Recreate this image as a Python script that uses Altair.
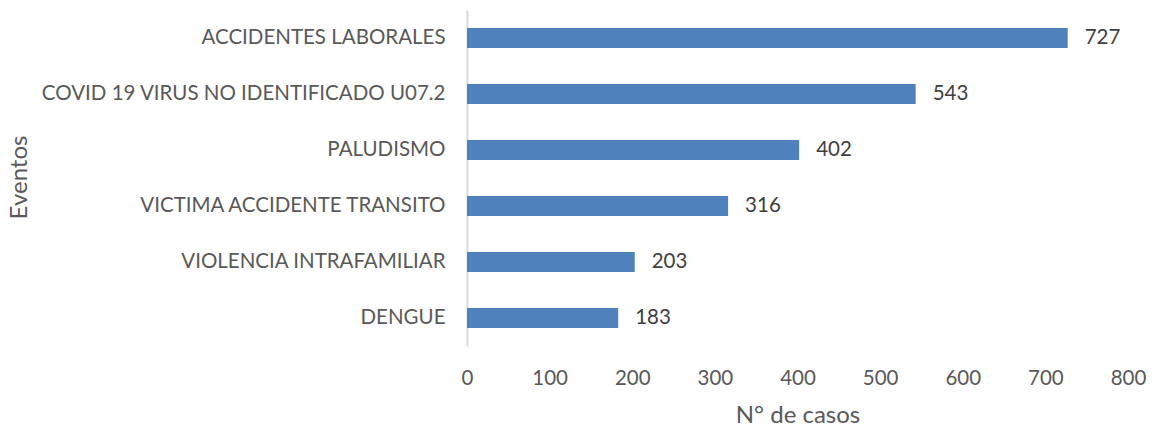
import altair as alt
import pandas as pd

categories = ["ACCIDENTES LABORALES", "COVID 19 VIRUS NO IDENTIFICADO U07.2", "PALUDISMO",
              "VICTIMA ACCIDENTE TRANSITO", "VIOLENCIA INTRAFAMILIAR", "DENGUE"]
values = [727, 543, 402, 316, 203, 183]
x_ticks = [0, 100, 200, 300, 400, 500, 600, 700, 800]

df = pd.DataFrame({"evento": categories, "casos": values})

FONT = "Lato"
FS = 20.5
TFS = 24
GREY = "#595959"

y_enc = alt.Y("evento:N", sort=categories,
              scale=alt.Scale(paddingInner=0.643, paddingOuter=0.3215),
              axis=alt.Axis(title="Eventos", ticks=False, domain=True, domainColor="#d9d9d9",
                            domainWidth=2, labelFont=FONT, labelFontSize=FS, labelColor=GREY,
                            labelPadding=22, labelLimit=500,
                            titleFont=FONT, titleFontSize=TFS, titleColor=GREY, titleFontWeight="normal",
                            titleX=-448, titleY=167, titleAngle=-90, titleBaseline="middle"))
x_enc = alt.X("casos:Q", scale=alt.Scale(domain=[0, 800], nice=False),
              axis=alt.Axis(title="N° de casos", values=x_ticks, grid=False, domain=False, ticks=False,
                            labelFont=FONT, labelFontSize=FS, labelColor=GREY, labelPadding=22,
                            labelFlush=False,
                            titleFont=FONT, titleFontSize=TFS, titleColor=GREY, titleFontWeight="normal",
                            titleY=76, titleBaseline="alphabetic"))

bars = alt.Chart(df).mark_bar(color="#4F81BD").encode(x=x_enc, y=y_enc)
labels = alt.Chart(df).mark_text(align="left", baseline="middle", dx=17, font=FONT, fontSize=FS,
                                 color="#404040").encode(
    x=alt.X("casos:Q"), y=alt.Y("evento:N", sort=categories), text="casos:Q")

chart = (bars + labels).properties(
    width=661, height=336,
    autosize=alt.AutoSizeParams(type="none"),
    padding={"left": 459, "top": 2, "right": 20, "bottom": 79},
).configure_view(stroke=None)

chart.save("out.html", embed_options={"renderer": "svg", "actions": False})
